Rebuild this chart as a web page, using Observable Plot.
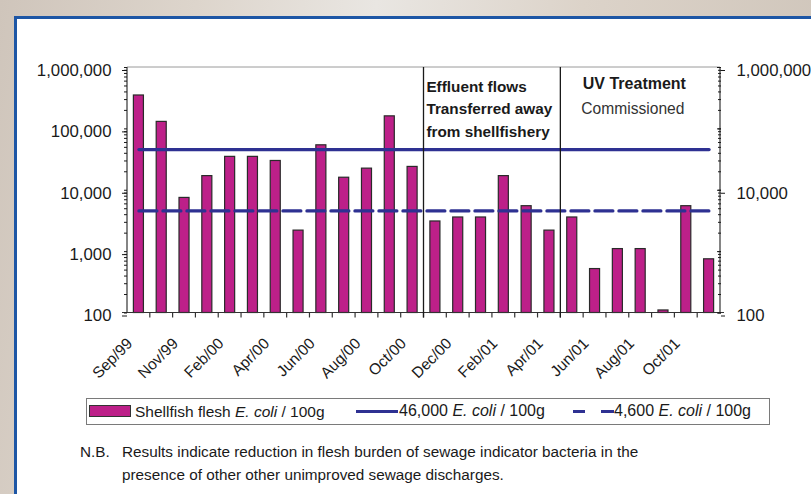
<!DOCTYPE html>
<html><head><meta charset="utf-8">
<script src="https://cdn.jsdelivr.net/npm/d3@7"></script>
<script src="https://cdn.jsdelivr.net/npm/@observablehq/plot@0.6"></script>
<style>
html,body{margin:0;padding:0;}
body{width:811px;height:494px;overflow:hidden;position:relative;font-family:"Liberation Sans",Arial,sans-serif;color:#1a1a1a;
background:linear-gradient(100deg,#cfc5bb 0%,#ddd5cc 22%,#e9e6e2 42%,#dcd3c9 65%,#cdc3b8 100%);}
#panel{position:absolute;left:14px;top:16px;width:830px;height:520px;background:#fff;border:3px solid #1d56a5;box-sizing:border-box;}
#chart{position:absolute;left:0;top:0;}
#legend{position:absolute;left:86px;top:398px;width:684px;height:27px;border:1.5px solid #7a7a7a;box-sizing:border-box;font-size:16px;}
#legend .it{position:absolute;top:3px;white-space:nowrap;}
#legend .sw{position:absolute;top:6px;width:42px;height:12px;background:#bd2089;border:1px solid #333;box-sizing:border-box;}
#legend .ln{position:absolute;top:11px;height:3px;background:#2e3192;}
#note{position:absolute;left:80px;top:440px;font-size:15.3px;line-height:23px;}
#note .row{white-space:nowrap;position:relative;}
</style>
</head><body>
<div id="panel"></div>
<div id="chart"></div>
<div id="legend"></div>
<div id="note"></div>
<script>
// ---- data ----
const sampleIndex = [0,1,2,3,4,5,6,7,8,9,10,11,12,13,14,15,16,17,18,19,20,21,22,23,24,25];
const tickLabels = ["Sep/99","","Nov/99","","Feb/00","","Apr/00","","Jun/00","","Aug/00","","Oct/00","",
  "Dec/00","","Feb/01","","Apr/01","","Jun/01","","Aug/01","","Oct/01",""];
const ecoli = [350000,130000,7500,17000,35000,35000,30000,2200,54000,16000,22500,160000,24000,
  3100,3600,3600,17000,5500,2200,3600,520,1100,1100,110,5500,750];
const limitHigh = 46000;
const limitLow = 4600;
const phaseStarts = [13, 19];
const yMajorTicks = [100,1000,10000,100000,1000000];
const yRightTicks = [100,10000,1000000];
const legendNames = ["Shellfish flesh", "46,000", "4,600"];
const noteLines = ["Results indicate reduction in flesh burden of sewage indicator bacteria in the",
  "presence of other other unimproved sewage discharges."];

const bars = sampleIndex.map((i) => ({i, v: ecoli[i]}));
const highLine = sampleIndex.map((i) => ({i, v: limitHigh}));
const lowLine = sampleIndex.map((i) => ({i, v: limitLow}));
const labeled = sampleIndex.filter((i) => tickLabels[i] !== "");

const blue = "#2e3192";
const fmt = d3.format(",");

function framework(index, scales, values, dims) {
  const x = scales.x;
  const gap = (x.step() - x.bandwidth()) / 2;
  const left = dims.marginLeft, right = dims.width - dims.marginRight;
  const top = dims.marginTop, bottom = dims.height - dims.marginBottom;
  const g = d3.create("svg:g");
  g.append("line").attr("x1", left).attr("x2", right).attr("y1", top).attr("y2", top)
    .attr("stroke", "#9a9a9a").attr("stroke-width", 1);
  g.append("line").attr("x1", left).attr("x2", left).attr("y1", top).attr("y2", bottom)
    .attr("stroke", "#333").attr("stroke-width", 1.2);
  g.append("line").attr("x1", right).attr("x2", right).attr("y1", top).attr("y2", bottom)
    .attr("stroke", "#333").attr("stroke-width", 1.2);
  g.append("line").attr("x1", left - 5).attr("x2", right + 4).attr("y1", bottom).attr("y2", bottom)
    .attr("stroke", "#333").attr("stroke-width", 1.2);
  for (const i of sampleIndex) {
    if (i === 0) continue;
    const bx = x(i) - gap;
    g.append("line").attr("x1", bx).attr("x2", bx).attr("y1", bottom).attr("y2", bottom + 5)
      .attr("stroke", "#333").attr("stroke-width", 1.2);
  }
  for (const i of phaseStarts) {
    const bx = x(i) - gap;
    g.append("line").attr("x1", bx).attr("x2", bx).attr("y1", top).attr("y2", bottom + 5)
      .attr("stroke", "#1a1a1a").attr("stroke-width", 1.3);
  }
  return g.node();
}

const chart = Plot.plot({
  width: 811,
  height: 380,
  marginLeft: 127,
  marginRight: 91,
  marginTop: 67,
  marginBottom: 67.5,
  style: {background: "transparent", fontFamily: "'Liberation Sans', Arial, sans-serif", color: "#1a1a1a", overflow: "visible"},
  x: {type: "band", domain: sampleIndex, paddingInner: 0.56, paddingOuter: 0.28, round: false},
  y: {type: "log", domain: [100, 1000000]},
  marks: [
    Plot.barY(bars, {x: "i", y1: 100, y2: "v", fill: "#bd2089", stroke: "#2a2a2a", strokeWidth: 1.2}),
    Plot.lineY(highLine, {x: "i", y: "v", stroke: blue, strokeWidth: 3.2}),
    Plot.lineY(lowLine, {x: "i", y: "v", stroke: blue, strokeWidth: 3.2, strokeDasharray: "18,6"}),
    framework,
    Plot.axisY({anchor: "left", ticks: yMajorTicks, tickFormat: fmt, tickSize: 5, tickPadding: 11, fontSize: 16.8, dy: 3, label: null}),
    Plot.axisY({anchor: "left", ticks: 60, tickSize: 3, tickFormat: () => "", label: null}),
    Plot.axisY({anchor: "right", ticks: yRightTicks, tickFormat: fmt, tickSize: 4, tickPadding: 12, fontSize: 16.8, dy: 3, label: null}),
    Plot.axisY({anchor: "right", ticks: yMajorTicks, tickSize: 4, dx: -4, tickFormat: () => "", label: null}),
    Plot.axisY({anchor: "right", ticks: 60, tickSize: 3, dx: -3, tickFormat: () => "", label: null}),
    Plot.axisX({ticks: labeled, tickFormat: (i) => tickLabels[i], tickSize: 0, tickRotate: -45, tickPadding: 28, dx: -9, textAnchor: "end", lineAnchor: "middle", fontSize: 15.5, label: null}),
    Plot.text([{i: 13, t: "Effluent flows\nTransferred away\nfrom shellfishery"}], {x: "i", text: "t", frameAnchor: "top", lineAnchor: "top", textAnchor: "start", dx: -9, dy: 8, lineHeight: 1.48, fontSize: 15.3, fontWeight: "bold", fill: "#1a1a1a"}),
    Plot.text([{i: 21, t: "UV Treatment"}], {x: "i", text: "t", frameAnchor: "top", lineAnchor: "top", textAnchor: "middle", dx: 16.5, dy: 10.5, fontSize: 16, fontWeight: "bold", fill: "#1a1a1a"}),
    Plot.text([{i: 21, t: "Commissioned"}], {x: "i", text: "t", frameAnchor: "top", lineAnchor: "top", textAnchor: "middle", dx: 15, dy: 35, fontSize: 15.6, fill: "#333"})
  ]
});
document.getElementById("chart").appendChild(chart);

// ---- legend ----
const legend = document.getElementById("legend");
const ital = (s) => s + ' <i>E. coli</i> / 100g';
legend.innerHTML =
  '<span class="sw" style="left:2px"></span>' +
  '<span class="it" style="left:48px;font-size:15.5px;top:3.5px">' + ital(legendNames[0]) + '</span>' +
  '<span class="ln" style="left:269px;width:42px"></span>' +
  '<span class="it" style="left:312px">' + ital(legendNames[1]) + '</span>' +
  '<span class="ln" style="left:486px;width:12px"></span><span class="ln" style="left:514px;width:13px"></span>' +
  '<span class="it" style="left:527px">' + ital(legendNames[2]) + '</span>';

// ---- note ----
const note = document.getElementById("note");
note.innerHTML = '<div class="row">N.B.<span style="position:absolute;left:42px">' + noteLines[0] + '</span></div>' +
  '<div class="row" style="padding-left:42px">' + noteLines[1] + '</div>';
</script>
</body></html>
